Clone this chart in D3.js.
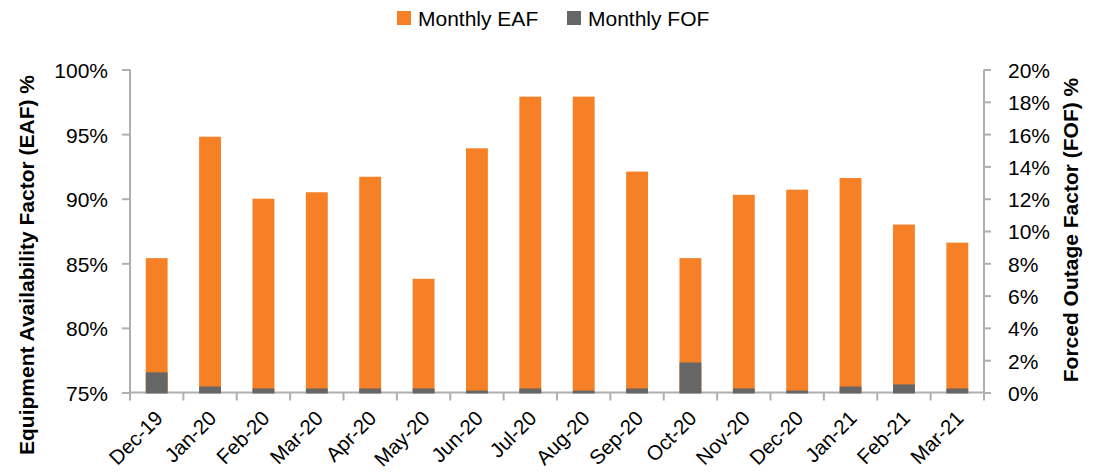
<!DOCTYPE html>
<html><head><meta charset="utf-8">
<script src="https://cdn.jsdelivr.net/npm/d3@7"></script>
<style>
body{margin:0;background:#fff;}
text{font-family:"Liberation Sans",Arial,sans-serif;fill:#000;}
</style></head>
<body><svg id="c" width="1104" height="472"></svg>
<script>
const categories = ["Dec-19","Jan-20","Feb-20","Mar-20","Apr-20","May-20","Jun-20","Jul-20","Aug-20","Sep-20","Oct-20","Nov-20","Dec-20","Jan-21","Feb-21","Mar-21"];
const eafValues = [85.4, 94.8, 90.0, 90.5, 91.7, 83.8, 93.9, 97.9, 97.9, 92.1, 85.4, 90.3, 90.7, 91.6, 88.0, 86.6];
const fofValues = [1.25, 0.37, 0.25, 0.25, 0.25, 0.25, 0.12, 0.25, 0.12, 0.25, 1.86, 0.25, 0.12, 0.37, 0.5, 0.25];
const leftTicks = [75, 80, 85, 90, 95, 100];
const rightTicks = [0, 2, 4, 6, 8, 10, 12, 14, 16, 18, 20];
const seriesNames = ["Monthly EAF", "Monthly FOF"];

const orange = "#F58025", gray = "#666666", axisCol = "#AFAFAF";
const svg = d3.select("#c");
const L = 130, R = 984, T = 69.5, B = 392.5;
const FS = 21;

const x = d3.scaleBand().domain(categories).range([L, R]).paddingInner(0.59).paddingOuter(0.295);
const xb = d3.scaleBand().domain(categories).range([L, R]);
const yL = d3.scaleLinear().domain([75, 100]).range([B, T]);
const yR = d3.scaleLinear().domain([0, 20]).range([B, T]);

// left axis
const gl = svg.append("g").attr("transform", `translate(${L},0)`)
  .call(d3.axisLeft(yL).tickValues(leftTicks).tickSize(8).tickPadding(14).tickFormat(d => d + "%"));
// right axis
const gr = svg.append("g").attr("transform", `translate(${R},0)`)
  .call(d3.axisRight(yR).tickValues(rightTicks).tickSize(7).tickPadding(17).tickFormat(d => d + "%"));
[gl, gr].forEach(g => {
  g.select(".domain").attr("stroke", axisCol).attr("stroke-width", 2).attr("d", `M0,${T}V${B}`);
  g.selectAll(".tick line").attr("stroke", axisCol).attr("stroke-width", 2);
  g.selectAll(".tick text").attr("font-size", FS).attr("fill", "#000").attr("dy", "0.38em")
    .style("font-family", "'Liberation Sans',Arial,sans-serif");
});

// x axis
const gx = svg.append("g").attr("transform", `translate(0,${B})`);
gx.append("line").attr("x1", L).attr("x2", R).attr("y1", 0).attr("y2", 0).attr("stroke", axisCol).attr("stroke-width", 2);
const bounds = categories.map(c => xb(c)).concat([R]);
gx.selectAll("line.tk").data(bounds).join("line").attr("class", "tk")
  .attr("x1", d => d).attr("x2", d => d).attr("y1", 0).attr("y2", 8)
  .attr("stroke", axisCol).attr("stroke-width", 2);
gx.selectAll("text.lab").data(categories).join("text").attr("class", "lab")
  .attr("transform", d => `translate(${xb(d) + xb.bandwidth() / 2 + 7.5},${27}) rotate(-45)`)
  .attr("text-anchor", "end").attr("font-size", 20.5).text(d => d);

// bars
svg.append("g").selectAll("rect").data(categories).join("rect")
  .attr("x", d => x(d)).attr("width", x.bandwidth())
  .attr("y", (d, i) => yL(eafValues[i])).attr("height", (d, i) => yL(75) - yL(eafValues[i]))
  .attr("fill", orange);
svg.append("g").selectAll("rect").data(categories).join("rect")
  .attr("x", d => x(d)).attr("width", x.bandwidth())
  .attr("y", (d, i) => yR(fofValues[i])).attr("height", (d, i) => yR(0) - yR(fofValues[i]) + 1)
  .attr("fill", gray);

// axis titles
svg.append("text").attr("transform", "translate(34,265) rotate(-90)")
  .attr("text-anchor", "middle").attr("font-size", FS).attr("font-weight", "bold")
  .text("Equipment Availability Factor (EAF) %");
svg.append("text").attr("transform", "translate(1078,230) rotate(-90)")
  .attr("text-anchor", "middle").attr("font-size", FS).attr("font-weight", "bold")
  .text("Forced Outage Factor (FOF) %");

// legend
const leg = svg.append("g");
const legItems = [{name: seriesNames[0], col: orange, x: 397}, {name: seriesNames[1], col: gray, x: 567}];
legItems.forEach(it => {
  leg.append("rect").attr("x", it.x).attr("y", 11).attr("width", 14).attr("height", 14).attr("fill", it.col);
  leg.append("text").attr("x", it.x + 21).attr("y", 26).attr("font-size", FS).text(it.name);
});
</script></body></html>
